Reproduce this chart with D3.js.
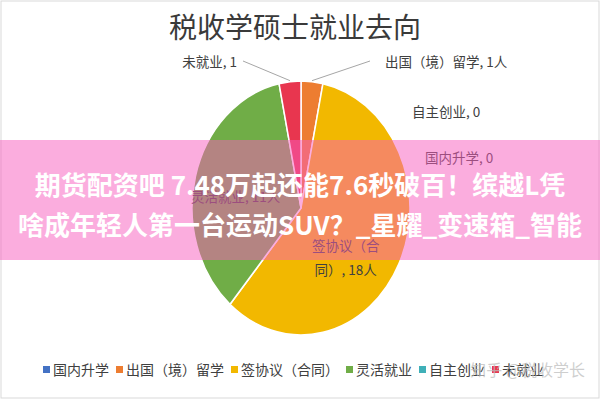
<!DOCTYPE html>
<html lang="zh">
<head>
  <meta charset="UTF-8">
  <title>税收学硕士就业去向</title>
  <script src="https://d3js.org/d3.v7.min.js"></script>
  <style>
    body { margin: 0; background: #fff; }
    svg { display: block; font-family: "Noto Sans CJK SC", "Noto Sans", sans-serif; }
  </style>
</head>
<body>
  <div id="chart"></div>
  <script>
    // 数据
    const categories = ["国内升学", "出国（境）留学", "签协议（合同）", "灵活就业", "自主创业", "未就业"];
    const values = [0, 1, 18, 11, 0, 1];
    const labelTexts = ["国内升学, 0", "出国（境）留学, 1人", "签协议（合同）, 18人", "灵活就业, 11人", "自主创业, 0", "未就业, 1"];
    const colors = ["#4472c4", "#ed7d31", "#f2b800", "#70ad47", "#3fb0b8", "#e8364f"];
    const title = "税收学硕士就业去向";
    const bannerLines = ["期货配资吧 7.48万起还能7.6秒破百！缤越L凭", "啥成年轻人第一台运动SUV？_星耀_变速箱_智能"];
    const watermark = "知乎 @税收学长";

    const width = 600, height = 400;
    const cx = 301, cy = 208, rx = 109, ry = 127;

    const svg = d3.select("#chart").append("svg")
      .attr("width", width)
      .attr("height", height);

    svg.append("rect")
      .attr("x", 1).attr("y", 1)
      .attr("width", width - 2).attr("height", height - 3)
      .attr("fill", "#fff")
      .attr("stroke", "#d9d9d9");

    // 标题
    svg.append("text")
      .attr("x", 295).attr("y", 38)
      .attr("text-anchor", "middle")
      .attr("font-size", 28)
      .attr("fill", "#3a3a3a")
      .text(title);

    // 饼图（原图被横向压缩，用缩放实现椭圆）
    const data = categories.map((c, i) => ({ name: c, value: values[i], label: labelTexts[i], color: colors[i] }));
    const pie = d3.pie().sort(null).value(d => d.value);
    const arcs = pie(data);
    const arc = d3.arc().innerRadius(0).outerRadius(rx);

    const pieG = svg.append("g")
      .attr("transform", `translate(${cx},${cy}) scale(1,${ry / rx})`);

    pieG.selectAll("path")
      .data(arcs.filter(d => d.data.value > 0))
      .join("path")
      .attr("d", arc)
      .attr("fill", d => d.data.color)
      .attr("stroke", "#fff")
      .attr("stroke-width", 1.5);

    // 椭圆上的点
    const pt = (angle, k) => [cx + Math.sin(angle) * rx * k, cy - Math.cos(angle) * ry * k];
    const mid = d => (d.startAngle + d.endAngle) / 2;

    const labelG = svg.append("g")
      .attr("font-size", 13.5)
      .attr("fill", "#404040");

    // 内部标签
    arcs.filter(d => d.data.name === "签协议（合同）" || d.data.name === "灵活就业").forEach(d => {
      const p = pt(mid(d), 0.62);
      if (d.data.name === "签协议（合同）") {
        const t = labelG.append("text").attr("text-anchor", "middle")
          .attr("y", p[1] + 8);
        t.append("tspan").attr("x", p[0] - 16).text("签协议（合");
        t.append("tspan").attr("x", p[0] - 16).attr("dy", 24).text("同）, 18人");
      } else {
        labelG.append("text").attr("text-anchor", "middle")
          .attr("x", p[0]).attr("y", p[1] + 14)
          .text(d.data.label);
      }
    });

    // 外部标签与引导线
    const outer = {
      "未就业": { pos: [237, 67], anchor: "end", line: [243, 61] },
      "出国（境）留学": { pos: [385, 67], anchor: "start", line: [370, 61] },
      "自主创业": { pos: [412, 117], anchor: "start" },
      "国内升学": { pos: [425, 163], anchor: "start" }
    };
    arcs.filter(d => outer[d.data.name]).forEach(d => {
      const o = outer[d.data.name];
      if (o.line) {
        const edge = pt(mid(d), 1.0);
        labelG.append("line")
          .attr("x1", o.line[0]).attr("y1", o.line[1])
          .attr("x2", edge[0]).attr("y2", edge[1] - 1)
          .attr("stroke", "#a6a6a6").attr("stroke-width", 1);
      }
      labelG.append("text")
        .attr("x", o.pos[0]).attr("y", o.pos[1])
        .attr("text-anchor", o.anchor)
        .text(d.data.label);
    });

    // 图例
    const legend = svg.append("g").attr("font-size", 14).attr("fill", "#404040");
    let lx = 43;
    data.forEach(d => {
      legend.append("rect")
        .attr("x", lx).attr("y", 366)
        .attr("width", 7).attr("height", 7)
        .attr("fill", d.color);
      const t = legend.append("text")
        .attr("x", lx + 10).attr("y", 375)
        .text(d.name);
      lx += 10 + t.node().getComputedTextLength() + 7;
    });

    // 粉色横幅
    svg.append("rect")
      .attr("x", 0).attr("y", 140)
      .attr("width", width).attr("height", 120)
      .attr("fill", "rgb(247,92,190)")
      .attr("opacity", 0.5);

    svg.append("g")
      .attr("font-size", 26)
      .attr("font-weight", "bold")
      .attr("fill", "#fff")
      .attr("text-anchor", "middle")
      .selectAll("text")
      .data(bannerLines)
      .join("text")
      .attr("x", 300)
      .attr("y", (d, i) => 195 + i * 40)
      .text(d => d);

    // 水印
    svg.append("text")
      .attr("x", 585).attr("y", 376)
      .attr("text-anchor", "end")
      .attr("font-size", 16)
      .attr("fill", "rgba(190,190,190,0.75)")
      .text(watermark);
  </script>
</body>
</html>
